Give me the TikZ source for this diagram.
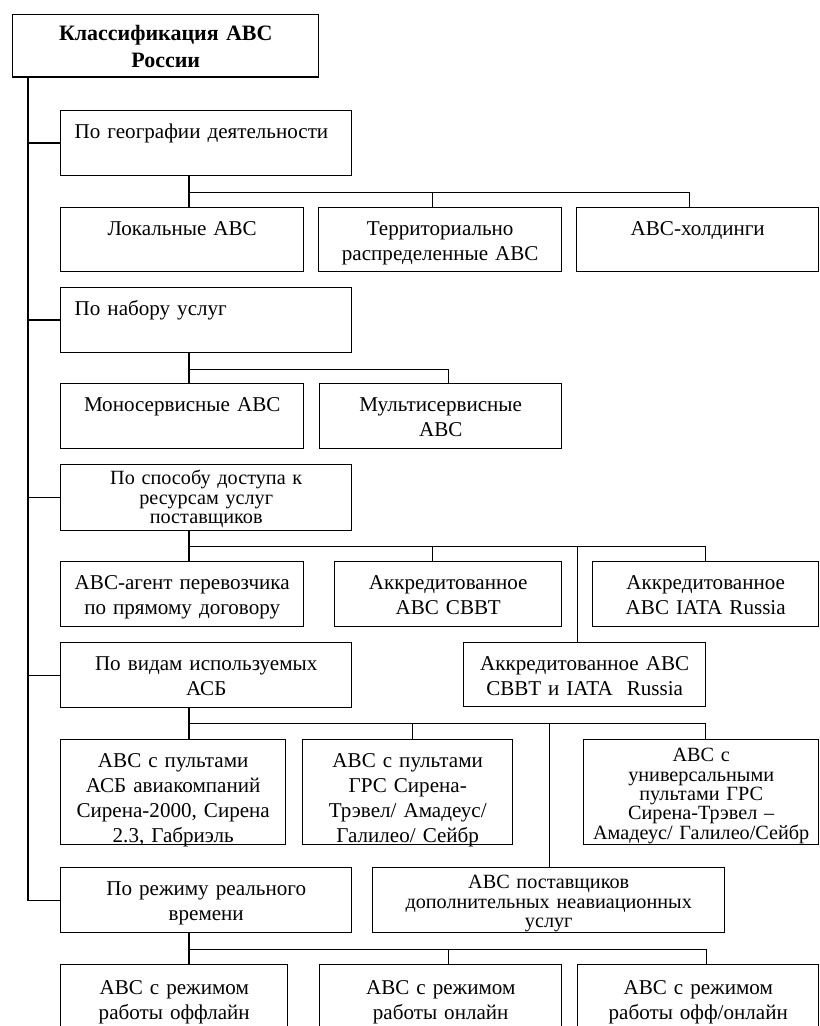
\documentclass[tikz,border=0pt]{standalone}
\usepackage{fontspec}
\setmainfont{Liberation Serif}
\usetikzlibrary{calc}

\def\boxtop{0.55}
\tikzset{
	firstline/.code={\def\boxtop{#1}},
	box/.code 2 args={%
		\pgfmathsetmacro\boxw{#1*0.02-0.2}%
		\pgfmathsetmacro\boxd{#2*0.02-\boxtop}%
		\pgfkeysalso{draw, anchor=north west, align=center, inner xsep=0.1cm, inner ysep=0pt,
			text width=\boxw cm, text height=\boxtop cm, text depth=\boxd cm}},
	leftbox/.style={align=left, execute at begin node=\hspace*{0.18cm}},
	tight/.style={font=\fontsize{11.5}{11}\selectfont},
}

\begin{document}
\begin{tikzpicture}[x=0.02cm, y=-0.02cm, line width=0.8pt, font=\fontsize{12}{14.2}\selectfont]
				\useasboundingbox (0,0) rectangle (820,1026);
				\clip (0,0) rectangle (820,1026);
				
				% root
				\node[box={306}{64}, firstline=0.52, font=\bfseries\fontsize{12.5}{15.3}\selectfont] (title) at (12,14) {Классификация АВС\\России};
				
				% geography
				\node[box={291}{65}, leftbox] (geo) at (60,110) {По географии деятельности};
				\node[box={243}{64}] (loc) at (60,207) {Локальные АВС};
				\node[box={243}{64}] (terr) at (318,207) {Территориально\\распределенные АВС};
				\node[box={242}{64}] (hold) at (576,207) {АВС-холдинги};
				
				% services
				\node[box={291}{65}, leftbox] (serv) at (60,287) {По набору услуг};
				\node[box={243}{65}] (mono) at (60,383) {Моносервисные АВС};
				\node[box={242}{65}] (multi) at (319,383) {Мультисервисные\\АВС};
				
				% access
				\node[tight, firstline=0.4, box={291}{66}] (access) at (60,464) {По способу доступа к\\ресурсам услуг\\поставщиков};
				\node[box={243}{65}] (agent) at (60,561) {АВС-агент перевозчика\\по прямому договору};
				\node[box={227}{65}] (svvt) at (334,561) {Аккредитованное\\АВС СВВТ};
				\node[box={226}{65}] (iata) at (592,561) {Аккредитованное\\АВС IATA Russia};
				\node[box={242}{64}] (both) at (463,642) {Аккредитованное АВС\\СВВТ и IATA~~Russia};
				
				% systems
				\node[box={291}{65}] (asb) at (60,642) {По видам используемых\\АСБ};
				\node[box={225}{105}] (asb1) at (60,739) {АВС с пультами\\АСБ авиакомпаний\\Сирена-2000, Сирена\\2.3, Габриэль};
				\node[box={210}{105}] (asb2) at (302,739) {АВС с пультами\\ГРС Сирена-\\Трэвел/ Амадеус/\\Галилео/ Сейбр};
				\node[tight, firstline=0.44, box={235}{105}] (asb3) at (583,739) {АВС с\\универсальными\\пультами ГРС\\Сирена-Трэвел –\\\mbox{Амадеус/ Галилео/Сейбр}};
				\node[tight, firstline=0.42, box={352}{65}] (supp) at (372,867) {АВС поставщиков\\дополнительных неавиационных\\услуг};
				
				% real time
				\node[box={291}{65}] (real) at (60,867) {По режиму реального\\времени};
				\node[box={227}{80}, firstline=0.6] (off) at (60,964) {АВС с режимом\\работы оффлайн};
				\node[box={242}{80}, firstline=0.6] (on) at (319,964) {АВС с режимом\\работы онлайн};
				\node[box={241}{80}, firstline=0.6] (offon) at (577,964) {АВС с режимом\\работы офф/онлайн};
				
				% trunk
				\coordinate (trunk) at ($(title.south west)+(16,0)$);
				\draw (trunk) |- (real.west);
				\foreach \n in {geo,serv,access,asb}
					\draw (trunk |- \n.west) -- (\n.west);
				
				% geography bus
				\draw ($(geo.south west)+(129,0)$) -- ++(0,16) coordinate (gb) -| ($(hold.north)+(-8,0)$);
				\draw (gb) -- (gb |- loc.north);
				\draw ($(terr.north)+(-8,0)$) coordinate (g2) -- (g2 |- gb);
				
				% services bus
				\draw ($(serv.south west)+(129,0)$) -- ++(0,16) coordinate (sb) -| ($(multi.north)+(8,0)$);
				\draw (sb) -- (sb |- mono.north);
				
				% access bus
				\draw ($(access.south west)+(129,0)$) -- ++(0,15) coordinate (ab) -| (iata.north);
				\draw (ab) -- (ab |- agent.north);
				\draw ($(svvt.north)+(-16,0)$) coordinate (a2) -- (a2 |- ab);
				\draw ($(both.north)+(-7,0)$) coordinate (a3) -- (a3 |- ab);
				
				% systems bus
				\draw ($(asb.south west)+(129,0)$) -- ++(0,15) coordinate (bb) -| ($(asb3.north)+(4,0)$);
				\draw (bb) -- (bb |- asb1.north);
				\draw ($(asb2.north)+(5,0)$) coordinate (b2) -- (b2 |- bb);
				\draw ($(supp.north)+(1,0)$) coordinate (b3) -- (b3 |- bb);
				
				% real time bus
				\draw ($(real.south west)+(129,0)$) -- ++(0,16) coordinate (rb) -| ($(offon.north)+(8,0)$);
				\draw (rb) -- (rb |- off.north);
				\draw ($(on.north)+(8,0)$) coordinate (r2) -- (r2 |- rb);
			\end{tikzpicture}
\end{document}
